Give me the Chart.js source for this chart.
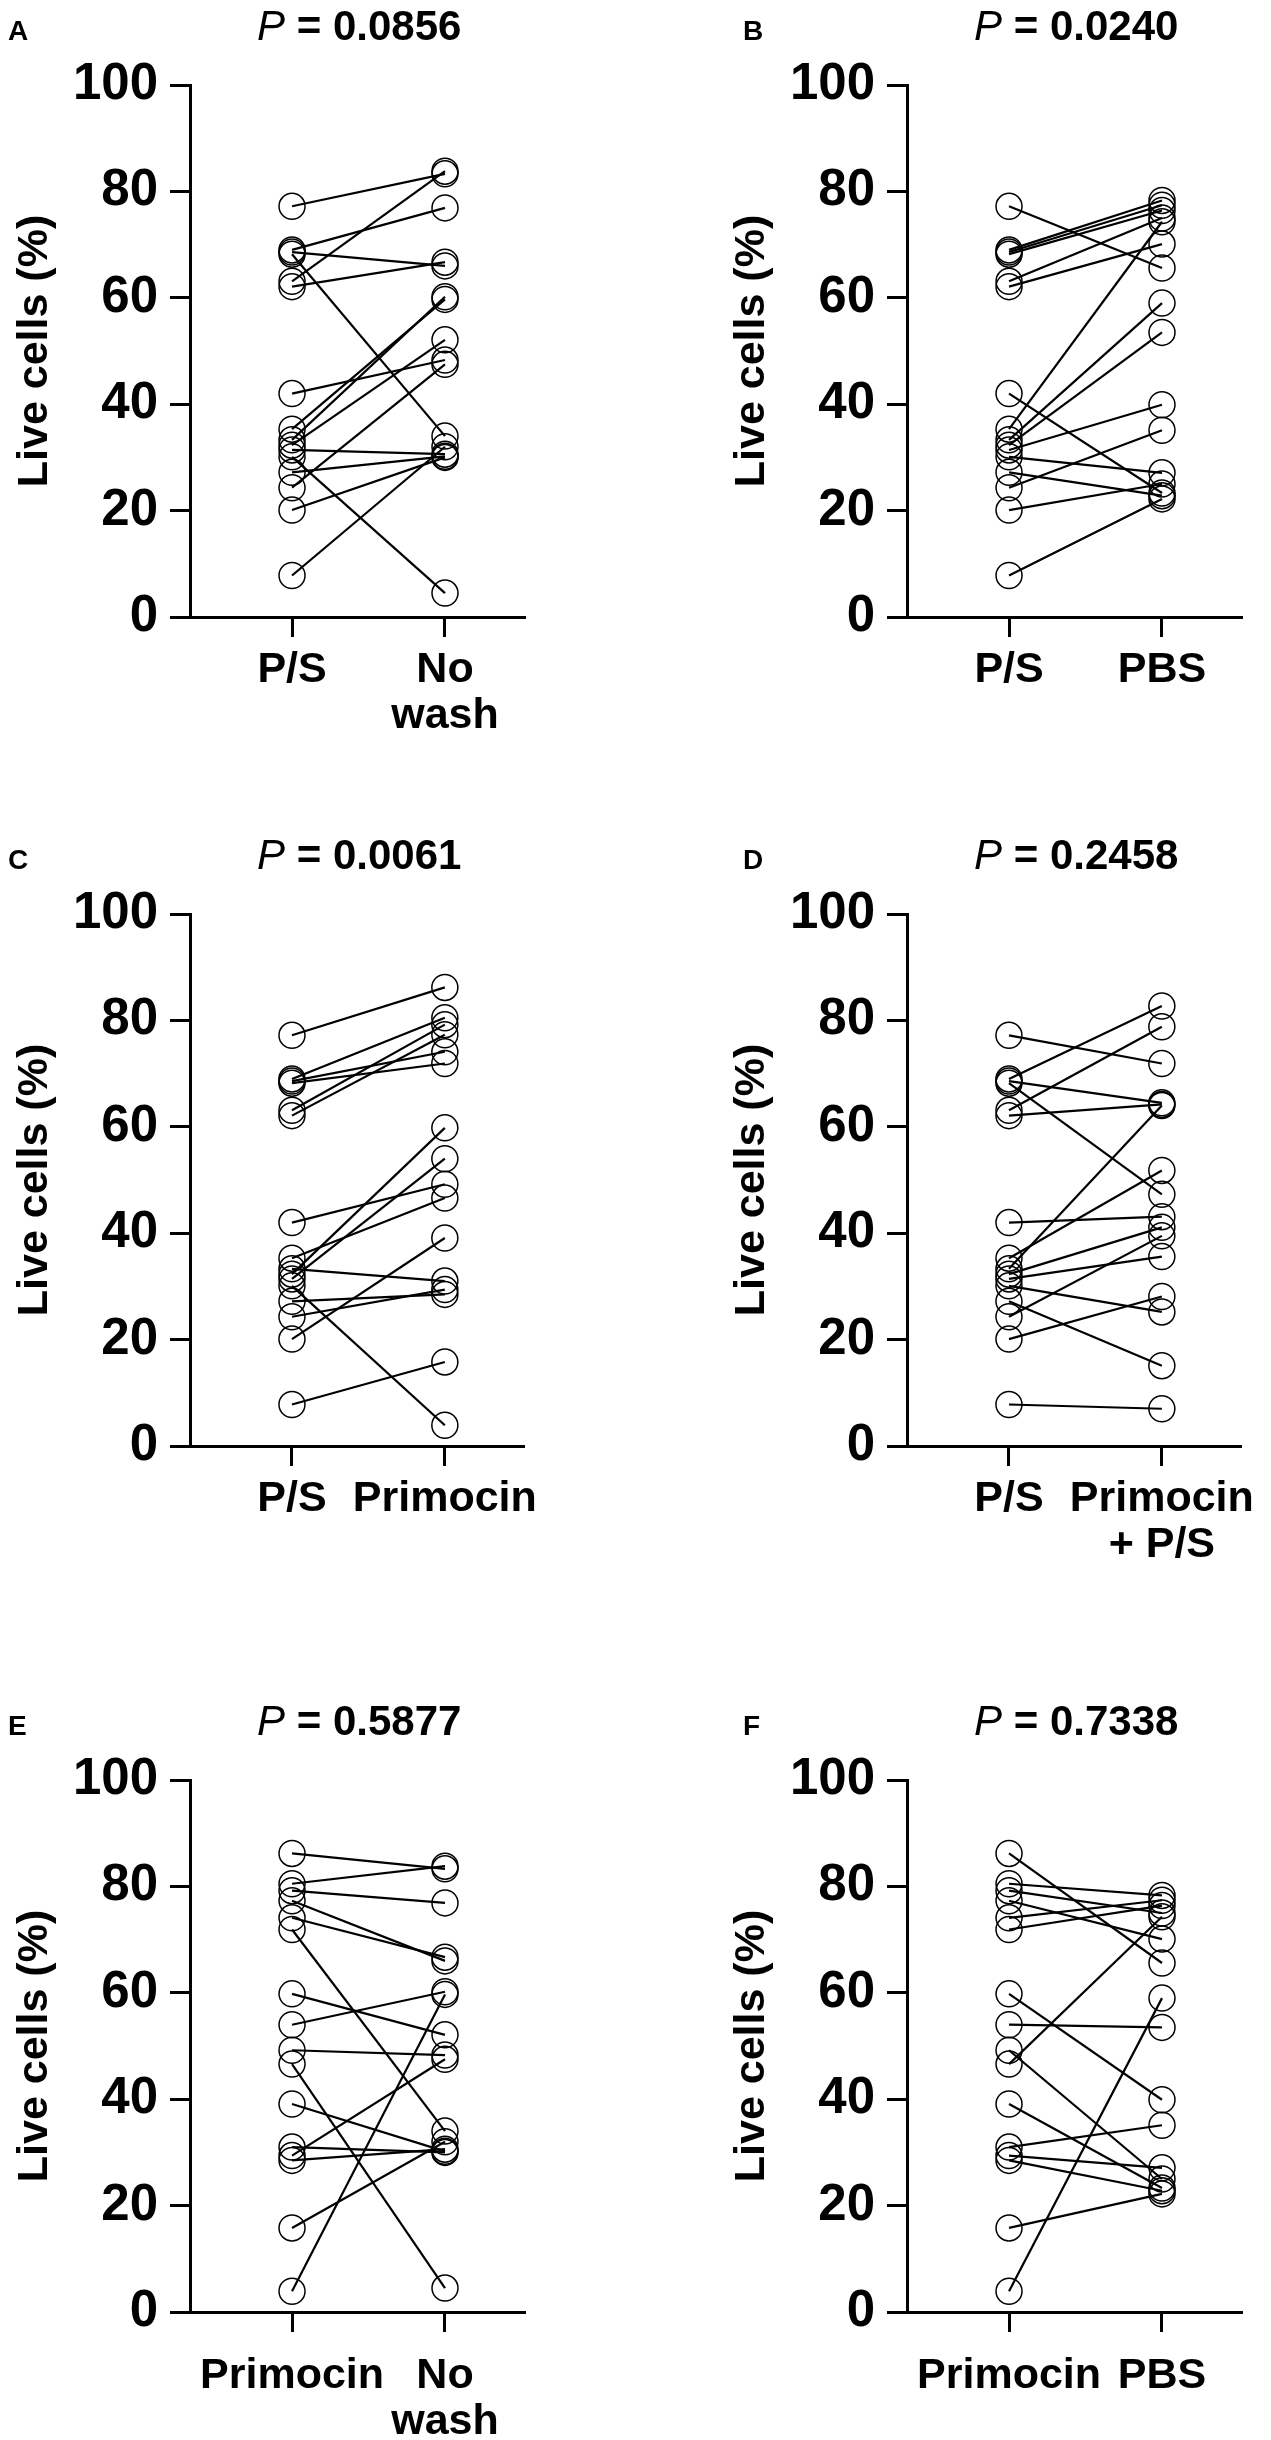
<!DOCTYPE html>
<html><head><meta charset="utf-8">
<script src="https://cdn.jsdelivr.net/npm/chart.js@4"></script>
<style>
html,body{margin:0;padding:0;background:#fff;}
body{width:1271px;height:2440px;overflow:hidden;position:relative;}
canvas{position:absolute;}
.ptitle{position:absolute;font-family:"Liberation Sans",Arial,sans-serif;font-size:42px;line-height:42px;white-space:nowrap;color:#000;}
.ptitle i{font-style:italic;font-weight:normal;}
.ptitle b{font-weight:bold;}
.plet{position:absolute;font-family:"Liberation Sans",Arial,sans-serif;font-weight:bold;font-size:28px;line-height:28px;color:#000;}
</style></head>
<body>
<script>
// ---- data (Live cells, %) ----
const panelLetters = ['A','B','C','D','E','F'];
const pValues = ['0.0856','0.0240','0.0061','0.2458','0.5877','0.7338'];
const yTicks = [0,20,40,60,80,100];
const yTitle = 'Live cells (%)';

const catsA = ['P/S', ['No','wash']];
const catsB = ['P/S', 'PBS'];
const catsC = ['P/S', 'Primocin'];
const catsD = ['P/S', ['Primocin','+ P/S']];
const catsE = ['Primocin', ['No','wash']];
const catsF = ['Primocin', 'PBS'];

const psLive      = [77.2, 69.0, 68.6, 68.2, 63.1, 62.1, 42.0, 35.3, 33.3, 32.3, 31.4, 30.1, 27.2, 24.3, 20.1, 7.8];
const noWashA     = [83.3, 76.9, 66.0, 34.0, 83.8, 66.7, 48.3, 59.7, 60.2, 52.1, 30.6, 4.5, 30.2, 47.5, 30.0, 32.0];
const pbsB        = [65.6, 78.3, 77.4, 76.4, 75.0, 70.1, 23.3, 74.3, 59.0, 53.5, 39.9, 27.1, 22.8, 35.1, 25.0, 22.2];
const primocinC   = [86.2, 80.5, 74.1, 71.9, 79.2, 77.3, 49.2, 46.6, 31.0, 59.8, 54.0, 3.9, 28.5, 29.4, 39.1, 15.8];
const primPsD     = [71.9, 82.7, 64.5, 47.3, 78.8, 64.2, 43.1, 51.8, 64.0, 41.1, 35.6, 25.2, 15.1, 39.5, 28.1, 7.0];
const primocinEF  = [86.2, 80.5, 79.2, 77.3, 74.1, 71.9, 59.8, 54.0, 49.2, 46.6, 39.1, 31.0, 29.4, 28.5, 15.8, 3.9];
const noWashE     = [83.3, 83.8, 76.9, 66.0, 66.7, 34.0, 52.1, 60.2, 48.3, 4.5, 30.2, 30.0, 47.5, 30.6, 32.0, 59.7];
const pbsF        = [65.6, 78.3, 75.0, 70.1, 77.4, 76.4, 39.9, 53.5, 25.0, 74.3, 23.3, 35.1, 27.1, 22.8, 22.2, 59.0];

const panels = [
  {cats: catsA, a: psLive,     b: noWashA},
  {cats: catsB, a: psLive,     b: pbsB},
  {cats: catsC, a: psLive,     b: primocinC},
  {cats: catsD, a: psLive,     b: primPsD},
  {cats: catsE, a: primocinEF, b: noWashE},
  {cats: catsF, a: primocinEF, b: pbsF}
];

// ---- layout ----
const FONT = '"Liberation Sans", Arial, sans-serif';
const colLeft = [0, 717];
const letterLeft = [8, 743];
const rowTop = [0, 829, 1695];
const labelPad = [11, 11, 22];
const CW = 555, CH = 752;

panels.forEach((p, idx) => {
  const col = idx % 2, row = Math.floor(idx / 2);
  const L = colLeft[col], T = rowTop[row];
  const cv = document.createElement('canvas');
  cv.width = CW; cv.height = CH;
  cv.style.left = L + 'px'; cv.style.top = T + 'px';
  cv.style.width = CW + 'px'; cv.style.height = CH + 'px';
  document.body.appendChild(cv);

  const t = document.createElement('div');
  t.className = 'ptitle';
  t.style.left = (L + 257) + 'px';
  t.style.top = (T + 4.5) + 'px';
  t.innerHTML = '<i>P</i><b> = ' + pValues[idx] + '</b>';
  document.body.appendChild(t);

  const lt = document.createElement('div');
  lt.className = 'plet';
  lt.style.left = letterLeft[col] + 'px';
  lt.style.top = (T + 17) + 'px';
  lt.textContent = panelLetters[idx];
  document.body.appendChild(lt);

  const datasets = p.a.map((v, i) => ({
    data: [{x: 0, y: v}, {x: 1, y: p.b[i]}],
    borderColor: '#000',
    borderWidth: 2.2,
    pointRadius: 13,
    pointBorderWidth: 1.5,
    pointBorderColor: '#000',
    pointBackgroundColor: 'rgba(0,0,0,0)',
    fill: false,
    tension: 0,
    clip: false
  }));

  new Chart(cv, {
    type: 'line',
    data: {datasets},
    options: {
      responsive: false,
      animation: false,
      events: [],
      layout: {padding: {top: 85, right: 30, bottom: 0, left: 0}},
      plugins: {legend: {display: false}, tooltip: {enabled: false}, title: {display: false}},
      scales: {
        x: {
          type: 'linear',
          min: -0.667, max: 1.523,
          afterBuildTicks: (s) => { s.ticks = [{value: 0}, {value: 1}]; },
          afterFit: (s) => { s.height = 135; },
          grid: {drawOnChartArea: false, drawTicks: true, tickLength: 20, tickWidth: 3, tickColor: '#000'},
          border: {display: true, color: '#000', width: 3},
          ticks: {
            autoSkip: false, maxRotation: 0, padding: labelPad[row], color: '#000',
            font: {family: FONT, size: 43, weight: 'bold', lineHeight: 1.05},
            callback: (v) => p.cats[v]
          }
        },
        y: {
          min: 0, max: 100,
          afterBuildTicks: (s) => { s.ticks = yTicks.map(v => ({value: v})); },
          afterFit: (s) => { s.width = 190; },
          grid: {drawOnChartArea: false, drawTicks: true, tickLength: 20, tickWidth: 3, tickColor: '#000'},
          border: {display: true, color: '#000', width: 3},
          ticks: {padding: 12, color: '#000', font: {family: FONT, size: 51, weight: 'bold'}},
          title: {display: true, text: yTitle, color: '#000', padding: {top: 9, bottom: 0},
                  font: {family: FONT, size: 43, weight: 'bold', lineHeight: 1.2}}
        }
      }
    }
  });
});
</script>
</body></html>
